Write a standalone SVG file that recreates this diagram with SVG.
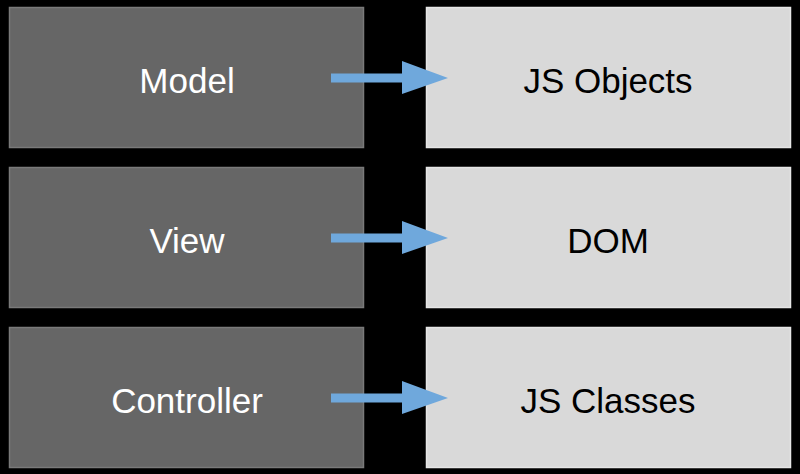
<svg xmlns="http://www.w3.org/2000/svg" width="800" height="474" viewBox="0 0 800 474">
<defs>
<style>
.l{fill:#666666;stroke:#7a7a7a;stroke-width:1.5}
.r{fill:#d9d9d9;stroke:#e6e6e6;stroke-width:1.5}
.t{font-family:"Liberation Sans",Arial,sans-serif;font-size:35px;text-anchor:middle;dominant-baseline:central}
.tw{fill:#ffffff}
.tb{fill:#000000}
.a{fill:#6fa8dc}
</style>
</defs>
<rect width="800" height="474" fill="#000000"/>
<g id="model"><rect class="l" x="9.5" y="7.5" width="354" height="140"/><text class="t tw" x="187" y="80">Model</text></g>
<g id="view"><rect class="l" x="9.5" y="167.5" width="354" height="140"/><text class="t tw" x="187" y="240">View</text></g>
<g id="controller"><rect class="l" x="9.5" y="327.5" width="354" height="140"/><text class="t tw" x="187" y="400">Controller</text></g>
<g id="jsobjects"><rect class="r" x="426.5" y="7.5" width="364" height="140"/><text class="t tb" x="608" y="80">JS Objects</text></g>
<g id="dom"><rect class="r" x="426.5" y="167.5" width="364" height="140"/><text class="t tb" x="608" y="240">DOM</text></g>
<g id="jsclasses"><rect class="r" x="426.5" y="327.5" width="364" height="140"/><text class="t tb" x="608" y="400">JS Classes</text></g>
<g id="connectors">
<path class="a" d="M331 73.5H402V61L448 78L402 94V82.5H331Z"/>
<path class="a" d="M331 233.5H402V221L448 238L402 254V242.5H331Z"/>
<path class="a" d="M331 393.5H402V381L448 398L402 414V402.5H331Z"/>
</g>
</svg>
